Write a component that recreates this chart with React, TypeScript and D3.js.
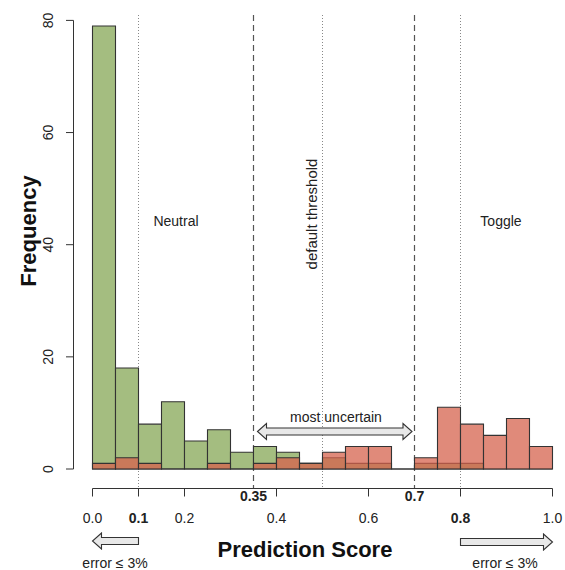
import React, { useEffect, useRef } from 'react';
import * as d3 from 'd3';

// histogram bins (width 0.05)
const binStarts = [0, 0.05, 0.1, 0.15, 0.2, 0.25, 0.3, 0.35, 0.4, 0.45, 0.5, 0.55, 0.6, 0.65, 0.7, 0.75, 0.8, 0.85, 0.9, 0.95];
const binWidth = 0.05;
const neutralCounts = [79, 18, 8, 12, 5, 7, 3, 4, 3, 1, 2, 1, 1, 0, 1, 1, 1, 0, 0, 0];
const toggleCounts = [1, 2, 1, 0, 0, 1, 0, 1, 2, 1, 3, 4, 4, 0, 2, 11, 8, 6, 9, 4];

const yTicks = [0, 20, 40, 60, 80];
const xTicks = [0, 0.1, 0.2, 0.4, 0.6, 0.8, 1.0];
const xTickLabels = ['0.0', '0.1', '0.2', '0.4', '0.6', '0.8', '1.0'];
const boldTicks = [0.1, 0.8];
const thresholdTicks = [0.35, 0.7];
const thresholdLabels = ['0.35', '0.7'];
const dottedLines = [0.1, 0.5, 0.8];

const FONT = '"Liberation Sans", Arial, Helvetica, sans-serif';

const App = () => {
  const svgRef = useRef<SVGSVGElement | null>(null);

  useEffect(() => {
    document.body.style.margin = '0';
    if (!svgRef.current) return;
    const svg = d3.select(svgRef.current);
    svg.selectAll('*').remove();

    const x = d3.scaleLinear().domain([0, 1]).range([92.5, 552.5]);
    const y = d3.scaleLinear().domain([0, 80]).range([469, 20.4]);
    const axisY = 488.5;
    const lineTop = 15;

    // reference lines
    svg.selectAll('.dotted')
      .data(dottedLines)
      .enter().append('line')
      .attr('x1', d => x(d)).attr('x2', d => x(d))
      .attr('y1', lineTop).attr('y2', axisY)
      .attr('stroke', '#888')
      .attr('stroke-width', 1)
      .attr('stroke-dasharray', '1,2');

    svg.selectAll('.dashed')
      .data(thresholdTicks)
      .enter().append('line')
      .attr('x1', d => x(d)).attr('x2', d => x(d))
      .attr('y1', lineTop).attr('y2', axisY)
      .attr('stroke', '#555')
      .attr('stroke-width', 1.2)
      .attr('stroke-dasharray', '6,4');

    // bars drawn as paths so zero-height bins still show a line
    const barPath = (start: number, count: number) => {
      const x0 = x(start), x1 = x(start + binWidth);
      const y0 = y(0), y1 = y(count);
      return `M${x0},${y0}H${x1}V${y1}H${x0}Z`;
    };

    svg.selectAll('.neutral')
      .data(binStarts)
      .enter().append('path')
      .attr('d', (d, i) => barPath(d, neutralCounts[i]))
      .attr('fill', '#a4bd80')
      .attr('stroke', '#333')
      .attr('stroke-width', 1.1);

    svg.selectAll('.toggle')
      .data(binStarts)
      .enter().append('path')
      .attr('d', (d, i) => barPath(d, toggleCounts[i]))
      .attr('fill', 'rgb(214,99,78)')
      .attr('fill-opacity', 0.75)
      .attr('stroke', '#333')
      .attr('stroke-width', 1.1);

    // y axis
    svg.append('line')
      .attr('x1', 73.5).attr('x2', 73.5)
      .attr('y1', y(80)).attr('y2', y(0))
      .attr('stroke', '#333');
    svg.selectAll('.ytick')
      .data(yTicks)
      .enter().append('line')
      .attr('x1', 66).attr('x2', 73.5)
      .attr('y1', d => y(d)).attr('y2', d => y(d))
      .attr('stroke', '#333');
    svg.selectAll('.ylab')
      .data(yTicks)
      .enter().append('text')
      .attr('transform', d => `translate(53,${y(d)}) rotate(-90)`)
      .attr('text-anchor', 'middle')
      .style('font-family', FONT)
      .style('font-size', '14px')
      .style('fill', '#222')
      .text(d => d);

    svg.append('text')
      .attr('transform', `translate(36,${231}) rotate(-90)`)
      .attr('text-anchor', 'middle')
      .style('font-family', FONT)
      .style('font-size', '22px')
      .style('font-weight', 'bold')
      .style('fill', '#111')
      .text('Frequency');

    // x axis
    svg.append('line')
      .attr('x1', x(0)).attr('x2', x(1))
      .attr('y1', axisY).attr('y2', axisY)
      .attr('stroke', '#333');
    svg.selectAll('.xtick')
      .data(xTicks)
      .enter().append('line')
      .attr('x1', d => x(d)).attr('x2', d => x(d))
      .attr('y1', axisY).attr('y2', axisY + 8)
      .attr('stroke', '#333');
    svg.selectAll('.xlab')
      .data(xTicks)
      .enter().append('text')
      .attr('x', d => x(d))
      .attr('y', 523)
      .attr('text-anchor', 'middle')
      .style('font-family', FONT)
      .style('font-size', '14px')
      .style('font-weight', d => (boldTicks.includes(d) ? 'bold' : 'normal'))
      .style('fill', '#222')
      .text((d, i) => xTickLabels[i]);
    svg.selectAll('.thlab')
      .data(thresholdTicks)
      .enter().append('text')
      .attr('x', d => x(d))
      .attr('y', 501)
      .attr('text-anchor', 'middle')
      .style('font-family', FONT)
      .style('font-size', '14px')
      .style('font-weight', 'bold')
      .style('fill', '#222')
      .text((d, i) => thresholdLabels[i]);

    svg.append('text')
      .attr('x', 305)
      .attr('y', 557)
      .attr('text-anchor', 'middle')
      .style('font-family', FONT)
      .style('font-size', '22px')
      .style('font-weight', 'bold')
      .style('fill', '#111')
      .text('Prediction Score');

    // annotations
    const label = (tx: number, ty: number, t: string) =>
      svg.append('text')
        .attr('x', tx).attr('y', ty)
        .attr('text-anchor', 'middle')
        .style('font-family', FONT)
        .style('font-size', '14px')
        .style('fill', '#222')
        .text(t);

    label(176, 226, 'Neutral');
    label(501, 226, 'Toggle');
    label(336, 422, 'most uncertain');
    label(115, 568, 'error \u2264 3%');
    label(505, 568, 'error \u2264 3%');

    svg.append('text')
      .attr('transform', `translate(317,214) rotate(-90)`)
      .attr('text-anchor', 'middle')
      .style('font-family', FONT)
      .style('font-size', '15px')
      .style('fill', '#222')
      .text('default threshold');

    // block arrows
    const arrow = (xa: number, xb: number, cy: number, both: boolean) => {
      const bh = 3.5, hh = 8, hl = 9;
      const dir = xb > xa ? 1 : -1;
      const pts: [number, number][] = [];
      if (both) {
        pts.push([xa, cy], [xa + dir * hl, cy - hh], [xa + dir * hl, cy - bh]);
      } else {
        pts.push([xa, cy - bh]);
      }
      pts.push([xb - dir * hl, cy - bh], [xb - dir * hl, cy - hh], [xb, cy],
        [xb - dir * hl, cy + hh], [xb - dir * hl, cy + bh]);
      if (both) {
        pts.push([xa + dir * hl, cy + bh], [xa + dir * hl, cy + hh]);
      } else {
        pts.push([xa, cy + bh]);
      }
      svg.append('path')
        .attr('d', d3.line()(pts) + 'Z')
        .attr('fill', '#e8e8e8')
        .attr('stroke', '#333')
        .attr('stroke-width', 1.1);
    };

    arrow(x(0.35) + 4, x(0.7) - 2.5, 431.5, true);
    arrow(x(0.1), x(0), 541, false);
    arrow(x(0.8), x(1), 542, false);
  }, []);

  return (
    <svg ref={svgRef} width={565} height={570} style={{ display: 'block', background: '#fff' }} />
  );
};

export default App;
